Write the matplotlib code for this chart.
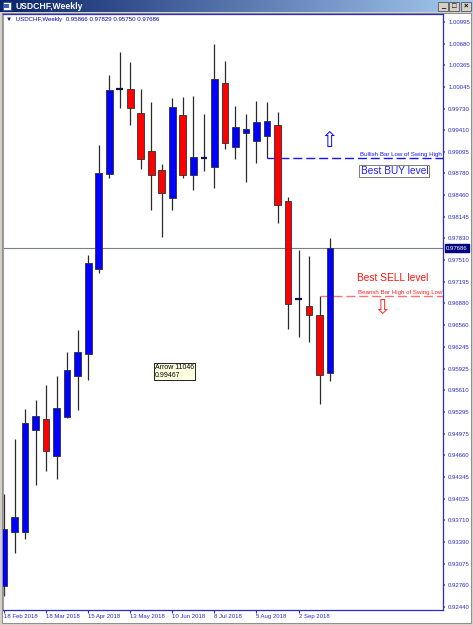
import matplotlib
matplotlib.use("Agg")
import matplotlib.pyplot as plt
import matplotlib.transforms as mtransforms
from matplotlib.patches import Rectangle
from matplotlib.colors import LinearSegmentedColormap
import numpy as np

W, H = 473, 625

# weekly USDCHF bars, 18 Feb 2018 .. 23 Sep 2018
opens = [0.92747, 0.93537, 0.93537, 0.95028, 0.95189, 0.94648, 0.95219, 0.95818,
         0.96140, 0.97383, 0.98772, 1.00015, 1.00015, 0.99664, 0.99108, 0.98831,
         0.98421, 0.99635, 0.98758, 0.99006, 0.98875, 1.00103, 0.99167, 0.99372,
         0.99255, 0.99328, 0.99489, 0.98377, 0.96944, 0.96842, 0.96710, 0.95866]
highs = [0.94092, 0.94897, 0.95335, 0.95467, 0.95686, 0.95818, 0.96169, 0.96491,
         0.97588, 0.99196, 1.00220, 1.00556, 1.00410, 1.00015, 0.99825, 0.98918,
         0.99884, 0.99898, 0.99913, 0.99650, 1.00673, 1.00425, 0.99767, 0.99650,
         0.99840, 0.99825, 0.99679, 0.98436, 0.97661, 0.97573, 0.96988, 0.97829]
lows = [0.92601, 0.93230, 0.93434, 0.94224, 0.94429, 0.94312, 0.95204, 0.95321,
        0.95760, 0.97324, 0.98714, 0.99737, 0.99489, 0.98845, 0.98246, 0.97851,
        0.98246, 0.98714, 0.98538, 0.98816, 0.98567, 0.99138, 0.98992, 0.98655,
        0.98933, 0.99006, 0.98056, 0.96505, 0.96388, 0.96315, 0.95409, 0.95750]
closes = [0.93581, 0.93756, 0.95131, 0.95233, 0.94721, 0.95350, 0.95906, 0.96169,
          0.97471, 0.98787, 1.00001, 1.00015, 0.99737, 0.98992, 0.98758, 0.98494,
          0.99752, 0.98758, 0.99021, 0.99006, 1.00161, 0.99225, 0.99459, 0.99430,
          0.99533, 0.99547, 0.98319, 0.96871, 0.96944, 0.96710, 0.95833, 0.97686]

date_labels = ["18 Feb 2018", "18 Mar 2018", "15 Apr 2018", "13 May 2018",
               "10 Jun 2018", "8 Jul 2018", "5 Aug 2018", "2 Sep 2018"]
price_ticks = [1.00995, 1.00680, 1.00365, 1.00045, 0.99730, 0.99410, 0.99095,
               0.98780, 0.98460, 0.98145, 0.97830, 0.97510, 0.97195, 0.96880,
               0.96560, 0.96245, 0.95925, 0.95610, 0.95295, 0.94975, 0.94660,
               0.94345, 0.94025, 0.93710, 0.93390, 0.93075, 0.92760, 0.92440]

buy_bar = 25    # bullish bar low of swing high
sell_bar = 30   # bearish bar high of swing low

FG = "#2b2bc8"
FONT = ["Liberation Sans", "DejaVu Sans"]

fig = plt.figure(figsize=(W / 100, H / 100), dpi=100, facecolor="#D4D0C8")
# pixel coordinates (origin top-left) for the window chrome
pix = mtransforms.Affine2D().scale(1 / W, -1 / H).translate(0, 1) + fig.transFigure


def frac(x0, y0, x1, y1):
    return [x0 / W, 1 - y1 / H, (x1 - x0) / W, (y1 - y0) / H]


# white chart panel
fig.add_artist(Rectangle((2, 13), 469, 610, transform=pix, fc="white",
                         ec="#808080", lw=0.6, zorder=-5))

# title bar
tb = fig.add_axes(frac(0, 0, W, 12))
grad = LinearSegmentedColormap.from_list("tb", ["#0A246A", "#A6CAF0"])
tb.imshow(np.linspace(0, 1, 256).reshape(1, -1), cmap=grad, aspect="auto",
          extent=[0, 1, 0, 1])
tb.axis("off")
fig.add_artist(Rectangle((2.5, 1.5), 8, 8, transform=pix, fc="white",
                         ec="#3050a0", lw=0.6, zorder=3))
fig.add_artist(Rectangle((4, 4), 5, 4, transform=pix, fc="#4060c0",
                         ec="none", zorder=3))
fig.text(15, 6.3, "USDCHF,Weekly", transform=pix, color="white",
         fontsize=6.2, fontweight="bold", va="center", family=FONT, zorder=3)
for bx, sym in [(438, "_"), (449, "□"), (461, "×")]:
    fig.add_artist(Rectangle((bx, 1.5), 10, 9, transform=pix, fc="#D4D0C8",
                             ec="#404040", lw=0.5, zorder=3))
    fig.text(bx + 5, 6.3, sym, transform=pix, ha="center", va="center",
             fontsize=5.5, fontweight="bold", color="black", family=FONT, zorder=4)

# main price chart
ax = fig.add_axes(frac(3, 14, 443, 610))
ax.set_facecolor("white")
xmax = 41.73
ax.set_xlim(-0.095, xmax)
ax.set_ylim(0.92396, 1.01112)

x = np.arange(len(opens))
o = np.array(opens)
c = np.array(closes)
hi = np.array(highs)
lo = np.array(lows)

ax.vlines(x, lo, hi, color="#2a2a2a", lw=0.9, zorder=2)
doji = np.abs(c - o) < 0.00005
body_col = np.where(c > o, "#0000FF", "#FF0000")
ax.bar(x[~doji], np.abs(c - o)[~doji], bottom=np.minimum(o, c)[~doji],
       width=0.64, color=body_col[~doji], edgecolor="#303030", lw=0.6, zorder=3)
ax.hlines(c[doji], x[doji] - 0.32, x[doji] + 0.32, color="#101040", lw=1.6, zorder=3)

# current price line
ax.axhline(c[-1], color="#7a8088", lw=0.8, zorder=1)
bl = mtransforms.blended_transform_factory(ax.transAxes, ax.transData)
ax.text(1.0 + 3 / 440, c[-1], f"{c[-1]:.5f}", transform=bl, ha="left", va="center",
        fontsize=4.3, color="white", family=FONT, clip_on=False,
        bbox=dict(boxstyle="square,pad=0.25", fc="#000080", ec="#000080"))

# buy level line
buy_level = lows[buy_bar]
ax.hlines(buy_level, buy_bar, xmax, colors="#1515ff", lw=1.0,
          linestyles=(0, (6.5, 2.8)), zorder=2)
ax.text(0.998, buy_level + 0.00012, "Bullish Bar Low of Swing High", transform=bl,
        ha="right", va="bottom", fontsize=4.4, color="#1515ff", family=FONT)
ax.text(33.9, 0.98816, "Best BUY level", ha="left", va="center", fontsize=7.3,
        color="#2222ff", family=FONT,
        bbox=dict(boxstyle="square,pad=0.12", fc="white", ec="#808070", lw=0.7))
ax.text(30.9, 0.99255, "\u21e7", ha="center", va="center", fontsize=15,
        color="#1010f0", family=["DejaVu Sans"])

# sell level line
sell_level = highs[sell_bar]
ax.hlines(sell_level, sell_bar, xmax, colors="#ff7070", lw=1.0,
          linestyles=(0, (6.5, 2.8)), zorder=2)
ax.text(0.998, sell_level + 0.00012, "Bearish Bar High of Swing Low", transform=bl,
        ha="right", va="bottom", fontsize=4.4, color="#ff2020", family=FONT)
ax.text(33.55, 0.97251, "Best SELL level", ha="left", va="center", fontsize=7.3,
        color="#ff1010", family=FONT)
ax.text(35.95, 0.96813, "\u21e9", ha="center", va="center", fontsize=15,
        color="#ff3030", family=["DejaVu Sans"])

# tooltip
ax.text(14.35, 0.95885, "Arrow 11046\n0.99467", ha="left", va="center",
        fontsize=5, color="black", family=FONT, linespacing=1.05,
        bbox=dict(boxstyle="square,pad=0.2", fc="#FFFFE1", ec="black", lw=0.6))

# header
ax.text(0.006, 0.9945, "\u25bc  USDCHF,Weekly  0.95866 0.97829 0.95750 0.97686",
        transform=ax.transAxes, ha="left", va="top", fontsize=4.4, color="#0000c0",
        family=FONT)

# axes styling
for side in ["top", "right", "bottom"]:
    ax.spines[side].set_color(FG)
    ax.spines[side].set_linewidth(0.9)
ax.spines["left"].set_color("#a0a0a0")
ax.spines["left"].set_linewidth(0.8)

ax.yaxis.tick_right()
ax.set_yticks(price_ticks)
ax.set_yticklabels([f"{v:.5f}" for v in price_ticks], fontsize=4.3, color=FG,
                   family=FONT)
ax.tick_params(axis="y", length=1.5, width=1.3, color="#6666ff", pad=2.2)

ax.set_xticks(x[::4])
ax.set_xticklabels(date_labels, fontsize=4.3, color=FG, family=FONT, ha="left")
ax.tick_params(axis="x", length=2.2, width=0.8, color=FG, pad=0.6)

fig.savefig("out.png", dpi=100, facecolor=fig.get_facecolor())
